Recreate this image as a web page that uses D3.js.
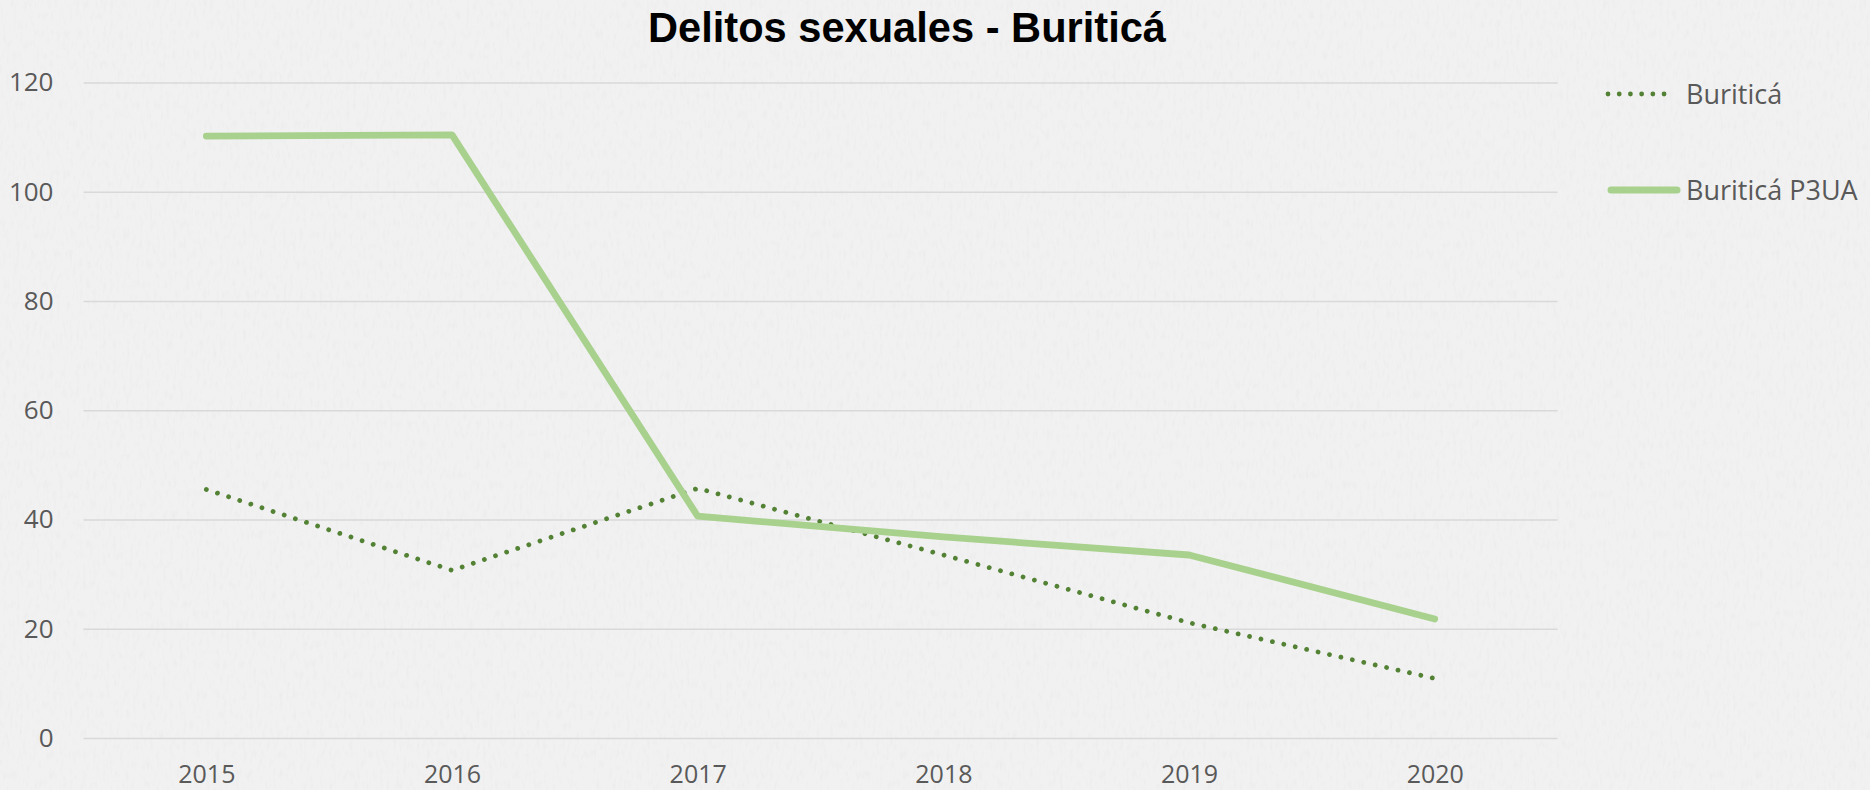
<!DOCTYPE html>
<html>
<head>
<meta charset="utf-8">
<script src="https://cdn.jsdelivr.net/npm/d3@7"></script>
<style>
  html, body { margin: 0; padding: 0; background: #efefef; }
  svg { display: block; }
</style>
</head>
<body>
<div id="chart"></div>
<script>
// data
const years = ['2015', '2016', '2017', '2018', '2019', '2020'];
const buritica = [45.5, 30.7, 45.7, 33.5, 21.1, 10.9];
const buriticaP3UA = [110.2, 110.4, 40.6, 36.8, 33.5, 21.8];
const yTicks = [0, 20, 40, 60, 80, 100, 120];
const seriesNames = ['Buriticá', 'Buriticá P3UA'];

const WIDTH = 1870;
const HEIGHT = 790;
const plot = { left: 83.5, right: 1557.6, top: 82.5, bottom: 738 };

const svg = d3
  .select('#chart')
  .append('svg')
  .attr('width', WIDTH)
  .attr('height', HEIGHT);

// paper texture
const defs = svg.append('defs');
const filter = defs
  .append('filter')
  .attr('id', 'paper')
  .attr('x', 0)
  .attr('y', 0)
  .attr('width', '100%')
  .attr('height', '100%');
filter
  .append('feTurbulence')
  .attr('type', 'fractalNoise')
  .attr('baseFrequency', '0.3 0.1')
  .attr('numOctaves', 3)
  .attr('seed', 7)
  .attr('result', 'noise');
filter
  .append('feColorMatrix')
  .attr('in', 'noise')
  .attr('type', 'matrix')
  .attr('values', '0 0 0 0 0.5  0 0 0 0 0.5  0 0 0 0 0.5  0 0 0 -1.2 0.6');

svg.append('rect').attr('width', WIDTH).attr('height', HEIGHT).attr('fill', '#f1f1f1');
svg
  .append('rect')
  .attr('width', WIDTH)
  .attr('height', HEIGHT)
  .attr('filter', 'url(#paper)')
  .attr('opacity', 0.18);

// scales
const scaleX = d3
  .scalePoint()
  .domain(years)
  .range([plot.left, plot.right])
  .padding(0.5);
const scaleY = d3
  .scaleLinear()
  .domain([0, 120])
  .range([plot.bottom, plot.top]);

// gridlines
const axisY = d3
  .axisLeft(scaleY)
  .tickValues(yTicks)
  .tickSize(-(plot.right - plot.left))
  .tickPadding(30);
const gY = svg
  .append('g')
  .attr('transform', `translate(${plot.left},0)`)
  .call(axisY);
gY.select('.domain').remove();
gY.selectAll('line').attr('stroke', '#d9d9d9').attr('stroke-width', 1.5);
gY.selectAll('text')
  .attr('fill', '#595959')
  .style('font-family', '"Open Sans", sans-serif')
  .style('font-size', '26px');

// x axis (labels only)
const axisX = d3.axisBottom(scaleX).tickSize(0).tickPadding(27);
const gX = svg
  .append('g')
  .attr('transform', `translate(0,${plot.bottom})`)
  .call(axisX);
gX.select('.domain').remove();
gX.selectAll('text')
  .attr('fill', '#595959')
  .style('font-family', '"Open Sans", sans-serif')
  .style('font-size', '25px');

// lines
const line = d3
  .line()
  .x((d, i) => scaleX(years[i]))
  .y((d) => scaleY(d));

svg
  .append('path')
  .datum(buritica)
  .attr('d', line)
  .attr('fill', 'none')
  .attr('stroke', '#548235')
  .attr('stroke-width', 4.8)
  .attr('stroke-linecap', 'round')
  .attr('stroke-dasharray', '0.01 11.7');

svg
  .append('path')
  .datum(buriticaP3UA)
  .attr('d', line)
  .attr('fill', 'none')
  .attr('stroke', '#a9d18e')
  .attr('stroke-width', 6.8)
  .attr('stroke-linecap', 'round')
  .attr('stroke-linejoin', 'round');

// title
svg
  .append('text')
  .attr('x', 907)
  .attr('y', 41.5)
  .attr('text-anchor', 'middle')
  .attr('textLength', 518)
  .attr('lengthAdjust', 'spacingAndGlyphs')
  .attr('fill', '#000')
  .style('font-family', '"Liberation Sans Narrow", "Liberation Sans", Arial, sans-serif')
  .style('font-weight', 'bold')
  .style('font-size', '42px')
  .text('Delitos sexuales - Buriticá');

// legend
const legend = svg.append('g');
const legendY = [94, 190];
legend
  .append('line')
  .attr('x1', 1608)
  .attr('x2', 1674)
  .attr('y1', legendY[0])
  .attr('y2', legendY[0])
  .attr('stroke', '#548235')
  .attr('stroke-width', 4.8)
  .attr('stroke-linecap', 'round')
  .attr('stroke-dasharray', '0.01 11.2');
legend
  .append('line')
  .attr('x1', 1611)
  .attr('x2', 1677)
  .attr('y1', legendY[1])
  .attr('y2', legendY[1])
  .attr('stroke', '#a9d18e')
  .attr('stroke-width', 7)
  .attr('stroke-linecap', 'round');
legend
  .selectAll('text')
  .data(seriesNames)
  .join('text')
  .attr('x', 1686)
  .attr('y', (d, i) => legendY[i] + 9.5)
  .attr('fill', '#595959')
  .style('font-family', '"Open Sans", sans-serif')
  .style('font-size', '27px')
  .text((d) => d);
</script>
</body>
</html>
